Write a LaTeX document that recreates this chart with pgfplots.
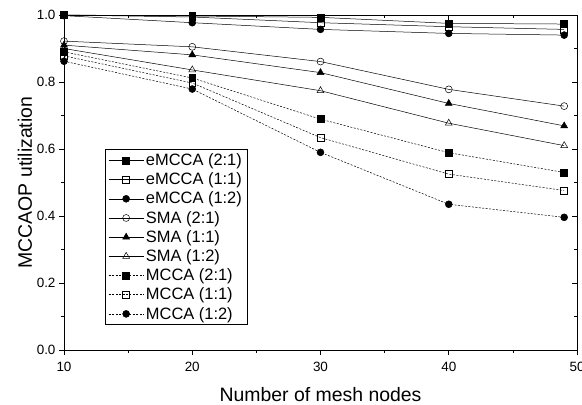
\documentclass[border=0pt]{standalone}
\usepackage{fontspec}
\setmainfont{Liberation Sans}
\usepackage{pgfplots}
\pgfplotsset{compat=1.18}

\begin{document}
\begin{tikzpicture}
\pgfplotsset{
  mystyle/.style={
    scale only axis, width=513bp, height=335bp,
    xmin=10, xmax=50, ymin=0, ymax=1,
    xtick={10,20,30,40,50}, ytick={0,0.2,0.4,0.6,0.8,1.0},
    minor x tick num=1, minor y tick num=1,
    major tick length=5bp, minor tick length=3bp,
    axis line style={line width=0.8pt},
    every tick/.style={black, line width=0.6pt},
  }
}
\begin{axis}[
  mystyle, name=ax,
  xtick pos=left, ytick pos=left, tick align=outside,
  /pgf/number format/assume math mode=true,
  yticklabel style={/pgf/number format/.cd, fixed, fixed zerofill, precision=1},
  ticklabel style={font=\fontsize{13.5}{15}\selectfont},
  xticklabel style={yshift=-3.5bp},
  xlabel={Number of mesh nodes}, ylabel={MCCAOP utilization},
  label style={font=\fontsize{19.5}{22}\selectfont},
  xlabel style={yshift=-9bp},
  ylabel style={yshift=-2bp},
  legend style={at={(0.08,0.075)}, anchor=south west, draw=black, line width=0.6pt,
    font=\fontsize{16.5}{19}\selectfont, row sep=1.8pt, inner xsep=3pt, inner ysep=2pt},
  legend cell align=left,
  legend image code/.code={\draw[mark repeat=2, mark phase=2] plot coordinates {(0cm,0cm) (0.62cm,0cm) (1.24cm,0cm)};},
  every axis plot/.append style={black, line width=0.5pt, mark size=3.5pt},
]
% eMCCA
\addplot[mark=square*] coordinates {(10,1.000) (20,0.997) (30,0.993) (40,0.975) (49,0.973)};
\addplot[mark=square, mark options={fill=white}] coordinates {(10,1.000) (20,0.994) (30,0.977) (40,0.965) (49,0.957)};
\addplot[mark=*] coordinates {(10,0.998) (20,0.977) (30,0.957) (40,0.945) (49,0.940)};
% SMA
\addplot[mark=o, mark options={fill=white}] coordinates {(10,0.922) (20,0.905) (30,0.861) (40,0.778) (49,0.728)};
\addplot[mark=triangle*, mark size=4pt] coordinates {(10,0.910) (20,0.881) (30,0.828) (40,0.736) (49,0.669)};
\addplot[mark=triangle, mark size=4pt, mark options={fill=white}] coordinates {(10,0.900) (20,0.836) (30,0.774) (40,0.677) (49,0.610)};
% MCCA
\addplot[mark=square*, dash pattern=on 2pt off 1.5pt, mark options={solid}] coordinates {(10,0.890) (20,0.812) (30,0.689) (40,0.589) (49,0.530)};
\addplot[mark=square, dash pattern=on 2pt off 1.5pt, mark options={solid, fill=white}] coordinates {(10,0.878) (20,0.797) (30,0.634) (40,0.525) (49,0.476)};
\addplot[mark=*, dash pattern=on 2pt off 1.5pt, mark options={solid}] coordinates {(10,0.862) (20,0.779) (30,0.590) (40,0.435) (49,0.396)};
\legend{eMCCA (2:1), eMCCA (1:1), eMCCA (1:2), SMA (2:1), SMA (1:1), SMA (1:2), MCCA (2:1), MCCA (1:1), MCCA (1:2)}
\end{axis}
\begin{axis}[
  mystyle,
  xtick pos=right, ytick pos=right, tick align=inside,
  xticklabels={}, yticklabels={},
]
\end{axis}
\pgfresetboundingbox
\path[use as bounding box] (ax.south west) ++(-64bp,-55bp) rectangle ++(582bp,405bp);
\end{tikzpicture}
\end{document}
